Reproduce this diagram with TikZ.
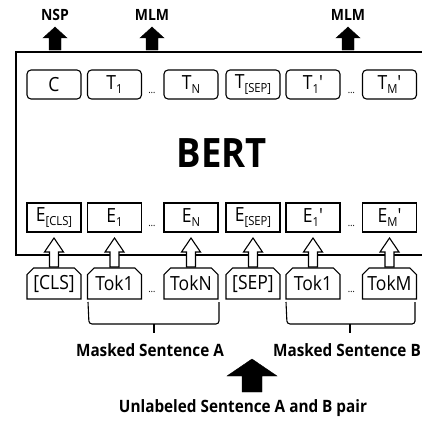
\documentclass[tikz,border=0pt]{standalone}
\usepackage{fontspec}
\setmainfont{Open Sans}[FakeStretch=0.9]
\usepackage{tikz}
\usetikzlibrary{shapes.misc}
\newcommand{\lowtxt}[1]{\raisebox{-4pt}{\fontsize{12.5}{13}\selectfont #1}}
\tikzset{ tbox/.style  ={draw, rounded corners=4pt, minimum width=54pt, minimum height=29pt, inner sep=0pt, line width=1.1pt, font=\fontsize{19.5}{20}\selectfont} }
\tikzset{ ebox/.style  ={draw,                     minimum width=54pt, minimum height=29pt, inner sep=0pt, line width=1.1pt, font=\fontsize{19.5}{20}\selectfont} }
\tikzset{ tokbox/.style={draw, chamfered rectangle, chamfered rectangle corners={north west,north east}, chamfered rectangle xsep=3pt,
                         minimum width=54pt, minimum height=31pt, inner sep=0pt, line width=1.1pt, font=\fontsize{19.5}{20}\selectfont} }
\tikzset{ dots/.style  ={inner sep=0pt, font=\fontsize{10}{10}\selectfont} }
\tikzset{ task/.style  ={inner sep=0pt, font=\bfseries\fontsize{15.5}{16}\selectfont} }
\tikzset{ sent/.style  ={inner sep=0pt, font=\bfseries\fontsize{17}{18}\selectfont} }
\tikzset{ solidup/.style ={draw=black, fill=black, line width=0.4pt, line join=miter} }
\tikzset{ hollowup/.style={draw=black, fill=white, line width=1.1pt, line join=miter} }
\tikzset{ brace/.style   ={draw=black, line width=1.1pt, rounded corners=3pt} }

\begin{document}
\begin{tikzpicture}[x=1pt, y=1pt]
    \useasboundingbox (0,-420) rectangle (422,0);

    % outputs
    \node[task] (nsp)  at ( 55,-15) {NSP};
    \node[task] (mlm1) at (152,-15) {MLM};
    \node[task] (mlm2) at (348,-15) {MLM};

    \draw[solidup] ( 55,-27) -- ++(12,-11) -- ++(-6,0) -- ++(0,-12) -- ++(-12,0) -- ++(0,12) -- ++(-6,0) -- cycle;
    \draw[solidup] (152,-27) -- ++(12,-11) -- ++(-6,0) -- ++(0,-12) -- ++(-12,0) -- ++(0,12) -- ++(-6,0) -- cycle;
    \draw[solidup] (348,-27) -- ++(12,-11) -- ++(-6,0) -- ++(0,-12) -- ++(-12,0) -- ++(0,12) -- ++(-6,0) -- cycle;

    % model frame
    \draw[line width=1.8pt] (423,-52) -- (16,-52) -- (16,-255) -- (423,-255);
    \node[inner sep=0pt, font=\bfseries\fontsize{40.5}{41}\selectfont] (bert) at (222,-153) {BERT};

    \node[tbox] (t_c)   at ( 54.0,-84.5) {C};
    \node[tbox] (t_1)   at (114.5,-84.5) {T\lowtxt{1}};
    \node[dots] (t_d1)  at (152.0,-93.0) {…};
    \node[tbox] (t_n)   at (191.0,-84.5) {T\lowtxt{N}};
    \node[tbox] (t_sep) at (253.0,-84.5) {T\lowtxt{[SEP]}};
    \node[tbox] (t_1p)  at (313.0,-84.5) {T\lowtxt{1}′};
    \node[dots] (t_d2)  at (351.5,-93.0) {…};
    \node[tbox] (t_mp)  at (389.5,-84.5) {T\lowtxt{M}′};

    \node[ebox] (e_cls) at ( 54.0,-217.5) {E\lowtxt{[CLS]}};
    \node[ebox] (e_1)   at (114.5,-217.5) {E\lowtxt{1}};
    \node[dots] (e_d1)  at (152.0,-226.0) {…};
    \node[ebox] (e_n)   at (191.0,-217.5) {E\lowtxt{N}};
    \node[ebox] (e_sep) at (253.0,-217.5) {E\lowtxt{[SEP]}};
    \node[ebox] (e_1p)  at (313.0,-217.5) {E\lowtxt{1}′};
    \node[dots] (e_d2)  at (351.5,-226.0) {…};
    \node[ebox] (e_mp)  at (389.5,-217.5) {E\lowtxt{M}′};

    % inputs
    \node[tokbox] (tok_cls) at ( 54.0,-283.5) {[CLS]};
    \node[tokbox] (tok_1)   at (114.5,-283.5) {Tok1};
    \node[dots]   (tok_d1)  at (152.0,-292.0) {…};
    \node[tokbox] (tok_n)   at (191.0,-283.5) {TokN};
    \node[tokbox] (tok_sep) at (253.0,-283.5) {[SEP]};
    \node[tokbox] (tok_1p)  at (313.0,-283.5) {Tok1};
    \node[dots]   (tok_d2)  at (351.5,-292.0) {…};
    \node[tokbox] (tok_m)   at (389.5,-283.5) {TokM};

    \draw[hollowup] ( 54.0,-238) -- ++(9.5,-14) -- ++(-5,0) -- ++(0,-15) -- ++(-9,0) -- ++(0,15) -- ++(-5,0) -- cycle;
    \draw[hollowup] (114.5,-238) -- ++(9.5,-14) -- ++(-5,0) -- ++(0,-15) -- ++(-9,0) -- ++(0,15) -- ++(-5,0) -- cycle;
    \draw[hollowup] (191.0,-238) -- ++(9.5,-14) -- ++(-5,0) -- ++(0,-15) -- ++(-9,0) -- ++(0,15) -- ++(-5,0) -- cycle;
    \draw[hollowup] (253.0,-238) -- ++(9.5,-14) -- ++(-5,0) -- ++(0,-15) -- ++(-9,0) -- ++(0,15) -- ++(-5,0) -- cycle;
    \draw[hollowup] (313.0,-238) -- ++(9.5,-14) -- ++(-5,0) -- ++(0,-15) -- ++(-9,0) -- ++(0,15) -- ++(-5,0) -- cycle;
    \draw[hollowup] (389.5,-238) -- ++(9.5,-14) -- ++(-5,0) -- ++(0,-15) -- ++(-9,0) -- ++(0,15) -- ++(-5,0) -- cycle;

    % sentences
    \draw[brace] ( 88,-302) -- ( 89,-324) -- (219,-324) -- (219,-302);
    \draw[brace] (154,-324) -- (154,-333);
    \draw[brace] (286,-302) -- (287,-324) -- (415,-324) -- (415,-302);
    \draw[brace] (350,-324) -- (350,-333);

    \node[sent] (sent_a) at (150,-350) {Masked Sentence A};
    \node[sent] (sent_b) at (347,-350) {Masked Sentence B};

    \draw[solidup] (252,-359) -- ++(25,-17) -- ++(-15,0) -- ++(0,-16) -- ++(-20,0) -- ++(0,16) -- ++(-15,0) -- cycle;

    \node[sent] (pair) at (243,-408) {Unlabeled Sentence A and B pair};
\end{tikzpicture}
\end{document}
